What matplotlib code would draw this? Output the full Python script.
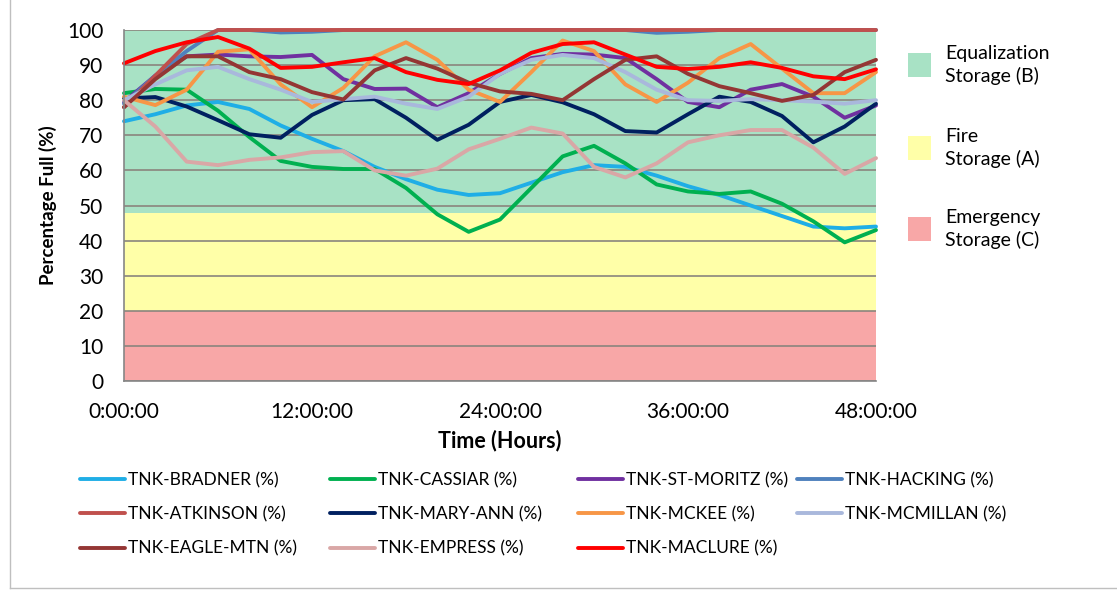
import matplotlib
matplotlib.use("Agg")
import matplotlib.pyplot as plt
from matplotlib.patches import Rectangle
from matplotlib.lines import Line2D

plt.rcParams["font.family"] = ["Lato", "DejaVu Sans"]

# time axis (hours), sampled every 2 h
HOURS = [0, 2, 4, 6, 8, 10, 12, 14, 16, 18, 20, 22, 24,
         26, 28, 30, 32, 34, 36, 38, 40, 42, 44, 46, 48]

BRADNER = [74, 76, 78.5, 79.5, 77.5, 72.8, 69, 65.5, 61, 57.5, 54.5, 53, 53.5,
           56.5, 59.5, 61.5, 61, 58.5, 55.5, 53, 50, 47, 44, 43.5, 44]
CASSIAR = [82, 83.2, 83, 77, 69.5, 62.7, 61, 60.4, 60.4, 55, 47.5, 42.5, 46,
           55, 64, 67, 62, 56, 54, 53.3, 54, 50.5, 45.5, 39.5, 43]
ST_MORITZ = [79.5, 87, 92.5, 93, 92.5, 92.3, 92.9, 86, 83.2, 83.3, 78, 82, 87.5,
             92, 93.2, 93, 92, 86, 79.5, 78, 83, 84.6, 81, 75, 78.5]
HACKING = [79, 87, 94, 100, 100, 99.3, 99.5, 100, 100, 100, 100, 100, 100,
           100, 100, 100, 100, 99.2, 99.5, 100, 100, 100, 100, 100, 100]
ATKINSON = [78, 87, 96, 100, 100, 100, 100, 100, 100, 100, 100, 100, 100,
            100, 100, 100, 100, 100, 100, 100, 100, 100, 100, 100, 100]
MARY_ANN = [80.5, 80.9, 78.2, 74.3, 70.3, 69.3, 75.8, 80, 80.3, 75, 68.7, 73, 79.5,
            81.5, 79.4, 76, 71.2, 70.8, 76, 81, 79.5, 75.5, 68, 72.5, 79]
MCKEE = [81, 78.6, 83, 93.8, 94.5, 84.5, 78, 83.5, 92.5, 96.5, 91.5, 83, 79.5,
         88, 97, 94, 84.5, 79.5, 85, 92, 96, 89, 82, 82, 88]
MCMILLAN = [80, 84.5, 88.5, 89.5, 86, 83, 79.5, 80.3, 81, 79, 77.5, 81, 87.5,
            91.5, 92.9, 92, 88, 83, 80, 79.8, 80.3, 80, 79.6, 79, 80]
EAGLE_MTN = [78, 86, 92.5, 92.5, 88, 86, 82.3, 80.2, 88.5, 92, 89, 85, 82.5,
             81.8, 80, 86, 91.5, 92.5, 87.5, 84, 82, 79.8, 81.5, 88, 91.5]
EMPRESS = [80, 72.5, 62.5, 61.5, 63, 63.7, 65.2, 65.5, 60, 58.5, 60.5, 66, 69,
           72.2, 70.5, 61, 58, 62, 68, 70, 71.5, 71.5, 66.5, 59, 63.5]
MACLURE = [90.5, 94, 96.5, 98, 94.7, 89.2, 89.5, 90.8, 92, 88, 85.8, 84.6, 88.5,
           93.5, 96, 96.5, 93, 89.5, 88.9, 89.5, 90.8, 89.2, 86.8, 86, 88.8]

SERIES = [
    ("TNK-BRADNER (%)", BRADNER, "#1FAEE6"),
    ("TNK-CASSIAR (%)", CASSIAR, "#00B050"),
    ("TNK-ST-MORITZ (%)", ST_MORITZ, "#7030A0"),
    ("TNK-HACKING (%)", HACKING, "#4F81BD"),
    ("TNK-ATKINSON (%)", ATKINSON, "#C0504D"),
    ("TNK-MARY-ANN (%)", MARY_ANN, "#002060"),
    ("TNK-MCKEE (%)", MCKEE, "#F79646"),
    ("TNK-MCMILLAN (%)", MCMILLAN, "#A9B8DC"),
    ("TNK-EAGLE-MTN (%)", EAGLE_MTN, "#943634"),
    ("TNK-EMPRESS (%)", EMPRESS, "#D9A7A6"),
    ("TNK-MACLURE (%)", MACLURE, "#FF0000"),
]

# storage zones (lower, upper, colour, label)
ZONES = [
    (48, 100, "#A8E2C5", "Equalization\nStorage (B)"),
    (20, 48, "#FFFFA8", "Fire\nStorage (A)"),
    (0, 20, "#F8A7A7", "Emergency\nStorage (C)"),
]

X_TICKS = [0, 12, 24, 36, 48]
X_LABELS = ["0:00:00", "12:00:00", "24:00:00", "36:00:00", "48:00:00"]

W, H = 1117, 591
fig = plt.figure(figsize=(W / 100, H / 100), dpi=100)
ax = fig.add_axes([124 / W, 1 - 381 / H, (876 - 124) / W, (381 - 30) / H])

for lo, hi, col, _ in ZONES:
    ax.axhspan(lo, hi, color=col, lw=0, zorder=0)
for yv in range(0, 101, 10):
    ax.axhline(yv, color="#8A857D", lw=1.2, zorder=1)

handles = []
for name, vals, col in SERIES:
    ln, = ax.plot(HOURS, vals, color=col, lw=2.8, label=name,
                  solid_joinstyle="round", solid_capstyle="round",
                  clip_on=False, zorder=2)
    handles.append(ln)

ax.set_xlim(0, 48)
ax.set_ylim(0, 100)
ax.set_yticks(range(0, 101, 10))
ax.set_xticks(X_TICKS)
ax.set_xticklabels(X_LABELS)
ax.tick_params(axis="both", length=0, labelsize=15, colors="#000000")
ax.tick_params(axis="y", pad=15)
ax.tick_params(axis="x", pad=15)
for s in ["top", "right"]:
    ax.spines[s].set_visible(False)
for s in ["left", "bottom"]:
    ax.spines[s].set_color("#868686")
    ax.spines[s].set_linewidth(1.2)

ax.set_ylabel("Percentage Full (%)", fontsize=13.5, fontweight="bold", va="center")
ax.set_xlabel("Time (Hours)", fontsize=15.5, fontweight="bold", va="center")
ax.yaxis.set_label_coords((48 - 124) / 752, 0.5)
ax.xaxis.set_label_coords(0.5, (381 - 441) / 351)

# zone key on the right (square + left-aligned two-line label)
key_y = [65, 148, 229]
sq = 23
for (_, _, col, label), yc in zip(ZONES, key_y):
    fig.add_artist(Rectangle((908 / W, 1 - (yc + sq / 2) / H), sq / W, sq / H,
                             facecolor=col, edgecolor="none",
                             transform=fig.transFigure))
    fig.text(945 / W, 1 - yc / H, label, ha="left", va="center",
             fontsize=14, linespacing=1.3)

# series legend: 4 columns, filled row by row as in the original
col_x = [80, 330, 578, 797]
for c, x0 in enumerate(col_x):
    idx = list(range(c, len(SERIES), 4))
    fig.legend([handles[i] for i in idx], [SERIES[i][0] for i in idx],
               loc="upper left", bbox_to_anchor=(x0 / W, 1 - 472 / H),
               frameon=False, fontsize=12.5, handlelength=2.6,
               handletextpad=0.15, labelspacing=1.05, borderaxespad=0,
               borderpad=0)

# thin chart-area border (left and bottom edges visible)
fig.add_artist(Line2D([10 / W, 10 / W], [1 - 588 / H, 1], color="#BFBFBF", lw=1))
fig.add_artist(Line2D([10 / W, 1], [1 - 588 / H, 1 - 588 / H], color="#BFBFBF", lw=1))

fig.savefig("out.png", dpi=100)
